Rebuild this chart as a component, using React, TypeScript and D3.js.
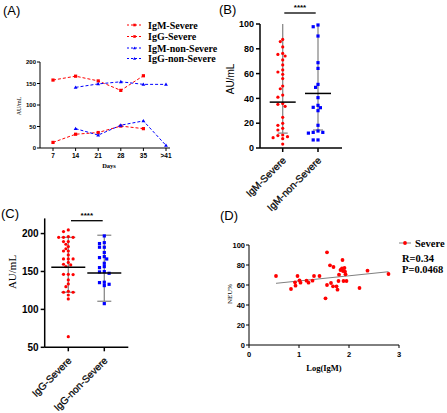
import React from "react";
import * as d3 from "d3";

// ---------- Panel A data ----------
const days = ["7", "14", "21", "28", "35", ">41"];
const igmSevere: (number | null)[] = [13, 32, 36, 51, 45, null];
const iggSevere: (number | null)[] = [158, 167, 156, 134, 168, null];
const igmNonSevere: (number | null)[] = [null, 45, 30, 53, 63, 6];
const iggNonSevere: (number | null)[] = [null, 141, 149, 154, 148, 148];
const aTicks = [0, 50, 100, 150, 200];

// ---------- Panel B data ----------
const bCats = ["IgM-Severe", "IgM-non-Severe"];
const bSevere = [87.6, 85.8, 81.5, 76.3, 75.5, 74.2, 71, 67, 63, 61.3, 59.4, 56, 50, 47.8, 42.7, 41, 35.8, 35.2, 33.6, 24.7, 19.9, 18.3, 15.9, 14.5, 10.5, 10, 9.1, 8.3, 7.5, 3.2];
const bNonSevere = [99.2, 97.8, 90.3, 68.8, 64.2, 51.3, 48.9, 40.6, 34.4, 32.8, 32.5, 30.1, 18.3, 13.7, 12.6, 12.6, 12, 6.5, 6.5];
const bMean = [37, 44];
const bLow = [12, 14.5];
const bHigh = [100, 100];
const bTicks = [0, 20, 40, 60, 80, 100];

// ---------- Panel C data ----------
const cCats = ["IgG-Severe", "IgG-non-Severe"];
const cSevere = [204.8, 202.6, 196, 195.1, 195, 195, 189.4, 189.4, 185.9, 182.8, 180, 177, 177, 171.8, 166.5, 166.5, 166.5, 162, 159.5, 158.6, 156.4, 145.9, 146.3, 146.3, 138.8, 133.6, 130, 123.9, 122.6, 122.6, 119, 113.8, 64];
const cNonSevere = [196.9, 188, 186.8, 182, 182, 175, 169.6, 168.3, 166.5, 160.8, 156.4, 155.1, 149.8, 149.4, 147.6, 135.8, 135.3, 133.1, 131.4, 107.6];
const cMean = [155.5, 148];
const cLow = [122.6, 110.7];
const cHigh = [195, 197.8];
const cTicks = [50, 100, 150, 200];

// ---------- Panel D data ----------
const dLogIgM = [0.54, 0.84, 0.92, 0.93, 0.97, 1.01, 1.03, 1.15, 1.19, 1.27, 1.3, 1.41, 1.53, 1.56, 1.56, 1.62, 1.64, 1.69, 1.68, 1.75, 1.77, 1.79, 1.8, 1.83, 1.86, 1.87, 1.88, 1.89, 1.91, 1.92, 1.93, 1.95, 2.21, 2.37, 2.79];
const dNeu = [69, 56, 62.7, 59.3, 69, 64.7, 62.3, 64.3, 62.3, 64.3, 69, 69, 46.7, 92.7, 60, 79.7, 62, 78, 58.7, 58.7, 55.3, 64, 70.3, 75, 76.7, 85, 74, 64, 77, 73.3, 70.7, 64, 57, 74.3, 71];
const dFit = { intercept: 58.9, slope: 5.15, xMin: 0.54, xMax: 2.79 };
const dXTicks = [0, 1, 2, 3];
const dYTicks = [0, 20, 40, 60, 80, 100];

const SANS = "'Liberation Sans', Arial, sans-serif";
const SERIF = "'Liberation Serif', 'Times New Roman', serif";
const RED = "#ff0000";
const BLUE = "#0000ff";
const GREY = "#8a8a8a";

function swarm(values: number[], y: (v: number) => number, step: number, minDist: number): number[] {
  const order = values.map((v, i) => i).sort((a, b) => values[b] - values[a]);
  const placed: { x: number; y: number }[] = [];
  const offs = new Array(values.length).fill(0);
  const slots = [0, -1, 1, -2, 2, -3, 3, -4, 4];
  for (const i of order) {
    const py = y(values[i]);
    for (const s of slots) {
      const px = s * step;
      const ok = placed.every((p) => Math.hypot(p.x - px, p.y - py) >= minDist);
      if (ok) {
        offs[i] = px;
        placed.push({ x: px, y: py });
        break;
      }
    }
  }
  return offs;
}

function Marker({ x, y, shape, color, size }: { x: number; y: number; shape: string; color: string; size: number }) {
  if (shape === "square") return <rect x={x - size / 2} y={y - size / 2} width={size} height={size} fill={color} />;
  if (shape === "triangle") {
    const h = size;
    return <path d={`M${x},${y - h * 0.6}L${x + h * 0.6},${y + h * 0.45}L${x - h * 0.6},${y + h * 0.45}Z`} fill={color} />;
  }
  return <circle cx={x} cy={y} r={size / 2} fill={color} />;
}

function PanelA() {
  const x = d3.scalePoint<string>().domain(days).range([53, 166]);
  const y = d3.scaleLinear().domain([0, 200]).range([148, 62]);
  const series = [
    { name: "IgM-Severe", values: igmSevere, color: RED, shape: "square" },
    { name: "IgG-Severe", values: iggSevere, color: RED, shape: "square" },
    { name: "IgM-non-Severe", values: igmNonSevere, color: BLUE, shape: "triangle" },
    { name: "IgG-non-Severe", values: iggNonSevere, color: BLUE, shape: "triangle" },
  ];
  const line = d3
    .line<{ d: string; v: number | null }>()
    .defined((p) => p.v !== null)
    .x((p) => x(p.d)!)
    .y((p) => y(p.v as number));
  const legendY = [25, 36.5, 48, 58.5];
  return (
    <g>
      <text x={3} y={15} fontFamily={SANS} fontSize={13}>(A)</text>
      {series.map((s) => (
        <g key={s.name}>
          <path d={line(days.map((d, i) => ({ d, v: s.values[i] })))!} fill="none" stroke={s.color} strokeWidth={1} strokeDasharray="3,2" />
          {days.map((d, i) =>
            s.values[i] === null ? null : (
              <Marker key={d} x={x(d)!} y={y(s.values[i] as number)} shape={s.shape} color={s.color} size={3.2} />
            )
          )}
        </g>
      ))}
      <line x1={40} x2={40} y1={62} y2={148} stroke="#000" strokeWidth={1} />
      <line x1={40} x2={170} y1={148} y2={148} stroke="#000" strokeWidth={1} />
      {aTicks.map((t) => (
        <g key={t}>
          <line x1={37} x2={40} y1={y(t)} y2={y(t)} stroke="#000" strokeWidth={1} />
          <text x={36} y={y(t)} dy="0.35em" textAnchor="end" fontFamily={SANS} fontWeight="bold" fontSize={6}>{t}</text>
        </g>
      ))}
      {days.map((d) => (
        <g key={d}>
          <line x1={x(d)} x2={x(d)} y1={148} y2={151} stroke="#000" strokeWidth={1} />
          <text x={x(d)} y={156} dy="0.35em" textAnchor="middle" fontFamily={SANS} fontWeight="bold" fontSize={6.5}>{d}</text>
        </g>
      ))}
      <text transform="translate(21,106) rotate(-90)" textAnchor="middle" fontFamily={SERIF} fontSize={6}>AU/mL</text>
      <text x={109} y={168} textAnchor="middle" fontFamily={SERIF} fontWeight="bold" fontSize={6.5}>Days</text>
      {series.map((s, i) => (
        <g key={s.name}>
          <line x1={127} x2={142} y1={legendY[i]} y2={legendY[i]} stroke={s.color} strokeWidth={1} strokeDasharray="2,2" />
          <Marker x={134.5} y={legendY[i]} shape={s.shape} color={s.color} size={2.6} />
          <text x={148} y={legendY[i]} dy="0.35em" fontFamily={SERIF} fontWeight="bold" fontSize={10}>{s.name}</text>
        </g>
      ))}
    </g>
  );
}

function DotPanel(props: {
  label: string; labelX: number; labelY: number;
  cats: string[]; groups: number[][]; mean: number[]; low: number[]; high: number[];
  domain: [number, number]; ticks: number[]; x0: number; x1: number; cx: [number, number];
  yTop: number; yBottom: number; tickFont: number; yLabel: { x: number; y: number; font: string; size: number };
  sig: { y: number; x1: number; x2: number };
  meanHalf: number; capHalf: number; catLabelDy: number;
}) {
  const p = props;
  const x = d3.scalePoint<string>().domain(p.cats).range(p.cx);
  const y = d3.scaleLinear().domain(p.domain).range([p.yBottom, p.yTop]);
  const colors = [RED, BLUE];
  const shapes = ["circle", "square"];
  const yAxisTop = y(p.domain[1]);
  return (
    <g>
      <text x={p.labelX} y={p.labelY} fontFamily={SANS} fontSize={13}>{p.label}</text>
      {p.cats.map((c, gi) => {
        const cx = x(c)!;
        return (
          <g key={c}>
            <line x1={cx} x2={cx} y1={y(p.low[gi])} y2={y(p.high[gi])} stroke={GREY} strokeWidth={1.3} />
            <line x1={cx - p.capHalf} x2={cx + p.capHalf} y1={y(p.low[gi])} y2={y(p.low[gi])} stroke={GREY} strokeWidth={1.3} />
            {p.high[gi] < p.domain[1] ? (
              <line x1={cx - p.capHalf} x2={cx + p.capHalf} y1={y(p.high[gi])} y2={y(p.high[gi])} stroke={GREY} strokeWidth={1.3} />
            ) : null}
          </g>
        );
      })}
      {p.cats.map((c, gi) => {
        const cx = x(c)!;
        const offs = swarm(p.groups[gi], y, 2.4, 3.2);
        return (
          <g key={c + "pts"}>
            {p.groups[gi].map((v, i) => (
              <Marker key={i} x={cx + offs[i]} y={y(v)} shape={shapes[gi]} color={colors[gi]} size={3.2} />
            ))}
          </g>
        );
      })}
      {p.cats.map((c, gi) => {
        const cx = x(c)!;
        return <line key={c + "m"} x1={cx - p.meanHalf} x2={cx + p.meanHalf} y1={y(p.mean[gi])} y2={y(p.mean[gi])} stroke="#000" strokeWidth={1.5} />;
      })}
      <line x1={p.x0} x2={p.x0} y1={yAxisTop} y2={p.yBottom} stroke="#000" strokeWidth={1.5} />
      <line x1={p.x0} x2={p.x1} y1={p.yBottom} y2={p.yBottom} stroke="#000" strokeWidth={1.5} />
      {p.ticks.map((t) => (
        <g key={t}>
          <line x1={p.x0 - 4} x2={p.x0} y1={y(t)} y2={y(t)} stroke="#000" strokeWidth={1.5} />
          <text x={p.x0 - 6} y={y(t)} dy="0.35em" textAnchor="end" fontFamily={SANS} fontWeight="bold" fontSize={p.tickFont}>{t}</text>
        </g>
      ))}
      {p.cats.map((c) => (
        <g key={c + "t"}>
          <line x1={x(c)} x2={x(c)} y1={p.yBottom} y2={p.yBottom + 4} stroke="#000" strokeWidth={1.5} />
          <text transform={`translate(${x(c)! + 4},${p.yBottom + p.catLabelDy}) rotate(-45)`} textAnchor="end" fontFamily={SANS} fontSize={10} stroke="#000" strokeWidth={0.25}>{c}</text>
        </g>
      ))}
      <text transform={`translate(${p.yLabel.x},${p.yLabel.y}) rotate(-90)`} textAnchor="middle" fontFamily={p.yLabel.font} fontSize={p.yLabel.size}>AU/mL</text>
      <line x1={p.sig.x1} x2={p.sig.x2} y1={p.sig.y} y2={p.sig.y} stroke="#000" strokeWidth={1.3} />
      <text x={(p.sig.x1 + p.sig.x2) / 2} y={p.sig.y - 3} textAnchor="middle" fontFamily={SANS} fontWeight="bold" fontSize={8}>****</text>
    </g>
  );
}

function PanelD() {
  const x = d3.scaleLinear().domain([0, 3]).range([249, 399]);
  const y = d3.scaleLinear().domain([0, 100]).range([345, 245]);
  return (
    <g>
      <text x={220} y={220} fontFamily={SANS} fontSize={13}>(D)</text>
      <line x1={x(dFit.xMin)} x2={x(dFit.xMax)} y1={y(dFit.intercept + dFit.slope * dFit.xMin)} y2={y(dFit.intercept + dFit.slope * dFit.xMax)} stroke="#808080" strokeWidth={1} />
      {dLogIgM.map((v, i) => (
        <circle key={i} cx={x(v)} cy={y(dNeu[i])} r={1.9} fill={RED} />
      ))}
      <line x1={249} x2={249} y1={245} y2={345} stroke="#000" strokeWidth={1} />
      <line x1={249} x2={399} y1={345} y2={345} stroke="#000" strokeWidth={1} />
      {dYTicks.map((t) => (
        <g key={t}>
          <line x1={246} x2={249} y1={y(t)} y2={y(t)} stroke="#000" strokeWidth={1} />
          <text x={245} y={y(t)} dy="0.35em" textAnchor="end" fontFamily={SANS} fontWeight="bold" fontSize={7.5}>{t}</text>
        </g>
      ))}
      {dXTicks.map((t) => (
        <g key={t}>
          <line x1={x(t)} x2={x(t)} y1={345} y2={348} stroke="#000" strokeWidth={1} />
          <text x={x(t)} y={354} dy="0.35em" textAnchor="middle" fontFamily={SANS} fontWeight="bold" fontSize={7.5}>{t}</text>
        </g>
      ))}
      <text transform="translate(232,294) rotate(-90)" textAnchor="middle" fontFamily={SERIF} fontSize={7}>NEU%</text>
      <text x={324} y={371} textAnchor="middle" fontFamily={SERIF} fontWeight="bold" fontSize={8.5}>Log(IgM)</text>
      <line x1={399} x2={411} y1={243} y2={243} stroke="#808080" strokeWidth={1} />
      <circle cx={405} cy={243} r={1.9} fill={RED} />
      <text x={415} y={243} dy="0.35em" fontFamily={SERIF} fontWeight="bold" fontSize={10.5}>Severe</text>
      <text x={402} y={258} dy="0.35em" fontFamily={SERIF} fontWeight="bold" fontSize={10.5}>R=0.34</text>
      <text x={402} y={269.5} dy="0.35em" fontFamily={SERIF} fontWeight="bold" fontSize={10.5}>P=0.0468</text>
    </g>
  );
}

export default function App() {
  return (
    <svg width={447} height={413} style={{ position: "absolute", left: 0, top: 0, background: "#fff" }}>
      <rect width={447} height={413} fill="#fff" />
      <PanelA />
      <DotPanel
        label="(B)" labelX={219} labelY={14}
        cats={bCats} groups={[bSevere, bNonSevere]} mean={bMean} low={bLow} high={bHigh}
        domain={[0, 100]} ticks={bTicks} x0={260} x1={342} cx={[282.7, 318]}
        yTop={24} yBottom={148} tickFont={9}
        yLabel={{ x: 234, y: 79, font: SANS, size: 10 }}
        sig={{ y: 13, x1: 284.3, x2: 315.7 }}
        meanHalf={13} capHalf={5} catLabelDy={13}
      />
      <DotPanel
        label="(C)" labelX={1} labelY={218}
        cats={cCats} groups={[cSevere, cNonSevere]} mean={cMean} low={cLow} high={cHigh}
        domain={[50, 220]} ticks={cTicks} x0={44.7} x1={128.3} cx={[68.3, 104.3]}
        yTop={218.4} yBottom={347.3} tickFont={10}
        yLabel={{ x: 16, y: 272, font: SERIF, size: 11 }}
        sig={{ y: 220.7, x1: 71, x2: 102.7 }}
        meanHalf={17} capHalf={7} catLabelDy={14}
      />
      <PanelD />
    </svg>
  );
}
